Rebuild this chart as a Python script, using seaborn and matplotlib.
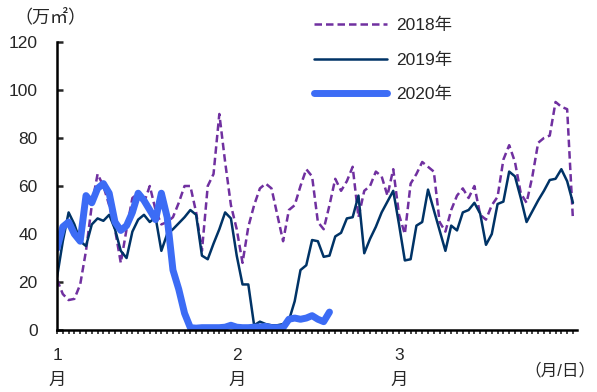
import numpy as np
import pandas as pd
import seaborn as sns
import matplotlib.pyplot as plt

# purple dashed: #7030A0, navy: #003366, bright blue: #3C6CF5

# daily values, Jan 1 = day 0 (万㎡)
y2018 = [21, 15, 12.5, 13, 19, 33, 52, 65, 60, 52,
         42, 28, 42, 55, 57, 53, 60, 50, 44, 45,
         47, 53, 60, 60, 49, 33, 60, 65, 90, 70,
         52, 42, 28, 43, 52, 59, 61, 59, 48, 37,
         50, 52, 60, 67, 64, 45, 42, 52, 63, 58,
         62, 68, 47, 58, 60, 66, 64, 56, 67, 48,
         40, 61, 65, 70, 68, 66, 45, 41, 50, 56,
         59, 55, 60, 48, 46, 52, 55.5, 71, 77, 70,
         57, 53, 64, 78, 80, 81, 95, 93, 92, 46]
y2019 = [22, 37, 49, 44, 37, 35, 44, 46.5, 45.5, 48,
         42, 33, 30, 41, 46, 48, 45, 47, 33, 40,
         42, 44.5, 47, 50, 48, 31, 29.5, 36, 42, 49,
         46.5, 31, 19, 19, 2, 3.5, 2.5, 2, 2, 2.5,
         4, 12, 25, 27, 37.5, 37, 30.5, 31, 39, 40.5,
         46.5, 47, 56, 32, 38, 43, 49, 53.5, 58, 44,
         29, 29.5, 43.5, 45, 58.5, 50, 41.5, 33, 43.5, 41.5,
         49, 50, 53, 48.5, 35.5, 40, 52.5, 53.5, 66, 64,
         55, 45, 49.5, 54, 58, 62.5, 63, 67, 62, 53]
y2020 = [34, 43, 45, 40, 37, 56, 53, 59, 61, 57,
         45, 41.5, 43.5, 49, 57, 54, 50, 46, 57, 47,
         25, 17, 7, 1, 0.8, 1, 1, 1, 1, 1.2,
         2, 1.2, 1, 1, 1.2, 1.3, 1.5, 1, 1, 1,
         4.5, 5, 4.5, 5, 6, 4.5, 3.5, 7.5]

month_days = [0, 31, 59]
month_labels = ['1\n月', '2\n月', '3\n月']

sns.set_style("ticks")
plt.rcParams['font.family'] = ['Liberation Sans', 'Noto Sans CJK JP', 'DejaVu Sans']

df18 = pd.DataFrame({'day': np.arange(len(y2018)), 'v': y2018})
df19 = pd.DataFrame({'day': np.arange(len(y2019)), 'v': y2019})
df20 = pd.DataFrame({'day': np.arange(len(y2020)), 'v': y2020})

fig = plt.figure(figsize=(5.97, 3.92), dpi=100)
ax = fig.add_axes([0.0955, 0.158, 0.871, 0.735])

sns.lineplot(data=df18, x='day', y='v', ax=ax, color='#7030A0', lw=1.8,
             label='2018年', linestyle=(0, (3, 1.6)))
sns.lineplot(data=df19, x='day', y='v', ax=ax, color='#003366', lw=1.8,
             label='2019年')
sns.lineplot(data=df20, x='day', y='v', ax=ax, color='#3C6CF5', lw=5,
             label='2020年', solid_capstyle='round')

ax.set_xlim(0, 89.7)
ax.set_ylim(0, 120)
ax.set_yticks(range(0, 121, 20))
ax.set_xticks(month_days)
ax.set_xticklabels(month_labels, fontsize=12.5, linespacing=1.8)
ax.set_xticks(np.arange(0, 90), minor=True)
ax.tick_params(axis='y', direction='in', length=4, width=1.8, labelsize=12.5, pad=14)
ax.tick_params(axis='x', which='both', direction='out', length=3, width=1.2, pad=10)
ax.set_xlabel('')
ax.set_ylabel('')
for s in ['top', 'right']:
    ax.spines[s].set_visible(False)
for s in ['left', 'bottom']:
    ax.spines[s].set_linewidth(1.8)
    ax.spines[s].set_color('black')

fig.text(0.025, 0.955, '（万㎡）', fontsize=13, va='center', ha='left')
fig.text(0.998, 0.055, '（月/日）', fontsize=12, va='center', ha='right')

leg = ax.legend(loc='upper left', bbox_to_anchor=(0.465, 1.137), frameon=False,
                fontsize=12.5, handlelength=4.2, labelspacing=1.1, handletextpad=0.5)

fig.savefig('out.png', dpi=100)
